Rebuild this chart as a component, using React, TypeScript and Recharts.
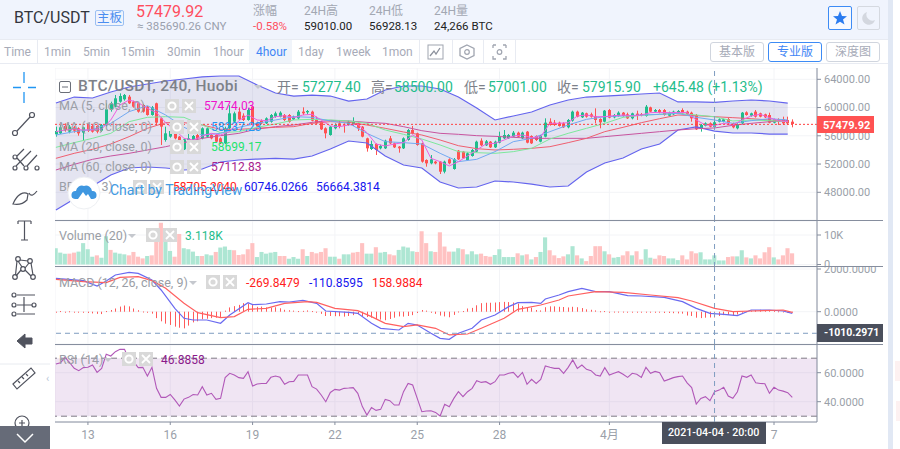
import React from "react";
import { Area, Bar, CartesianGrid, Cell, ComposedChart, Line, ReferenceArea, ReferenceLine, XAxis, YAxis } from "recharts";

// 4 hour candles, bar 0 = 11 Mar 20:00
const opens = [
  56210, 56350, 57390, 56585, 57200, 57060, 56445, 57530, 57390, 57390, 56725, 57530, 59650, 60125, 60830, 61165, 61540, 60830, 60600, 60360,
  60125, 58945, 60600, 58475, 55405, 55880, 56820, 55880, 54085, 54700, 55170, 56115, 55640, 55880, 56115, 56115, 55640, 54935, 57060, 58000,
  59420, 58850, 58240, 60125, 57765, 58140, 57765, 58000, 58710, 58710, 58945, 58945, 58330, 58475, 59420, 59320, 59420, 58240, 58000, 57060,
  56115, 57060, 57765, 57575, 57530, 57530, 57765, 57295, 55640, 54130, 54840, 54225, 54225, 55640, 54935, 54460, 54225, 55405, 56820, 56350,
  54935, 52575, 52100, 52340, 52340, 50920, 52670, 51300, 53895, 53755, 52575, 53140, 53755, 55310, 54650, 55170, 54365, 55030, 55640, 55640,
  55880, 56445, 55640, 56585, 55970, 55970, 55170, 55880, 58000, 57860, 57860, 57765, 57200, 58140, 59420, 58615, 59180, 59040, 58805, 58380,
  58000, 59650, 58615, 58805, 59275, 59040, 58475, 59135, 59085, 58805, 60030, 59420, 59650, 59650, 58850, 59040, 59275, 59650, 59420, 59275,
  58945, 57060, 57435, 57765, 57277, 58000, 58000, 58380, 57765, 57060, 57765, 59320, 58850, 59420, 59180, 59040, 58945, 57860, 58330, 58330,
  58240, 58000,
];
const closes = [
  56680, 57200, 56820, 57295, 56725, 56350, 57200, 56725, 56585, 56585, 57530, 59750, 60600, 61305, 61635, 61780, 60600, 60125, 59420, 59420,
  58945, 60030, 57860, 57295, 56350, 56680, 55640, 54225, 55500, 55640, 55970, 55640, 57060, 57060, 55640, 55170, 54935, 57060, 59180, 59180,
  58330, 58240, 59650, 57530, 57295, 57765, 58475, 58945, 59180, 59275, 58240, 58000, 58710, 59420, 59180, 59510, 58140, 57765, 56915, 56350,
  57295, 57530, 57390, 57480, 58000, 58000, 57060, 55880, 54225, 54840, 53990, 54555, 55310, 54935, 54365, 54225, 55640, 56820, 56350, 54700,
  52340, 52100, 52670, 52100, 50920, 52340, 52100, 52670, 52670, 52810, 53520, 53990, 55170, 54650, 55215, 54365, 55170, 55880, 56115, 56115,
  56445, 55880, 56445, 55030, 54935, 55405, 55970, 57860, 57530, 57530, 57390, 57200, 58240, 59420, 58710, 59275, 58710, 58710, 58240, 57905,
  59560, 58570, 58945, 59275, 58805, 58475, 59180, 58850, 58900, 60125, 59420, 59650, 59320, 58945, 59275, 59420, 59510, 59180, 59040, 58475,
  56915, 57530, 57765, 57295, 57916, 58330, 58330, 57765, 57200, 57625, 59275, 58945, 59180, 58710, 58710, 58615, 57860, 58330, 58000, 57765,
  57765, 57670,
];
const highs = [
  57295, 57530, 57765, 57530, 57390, 57200, 57295, 57670, 57530, 57530, 57670, 60600, 60830, 61780, 62010, 61920, 61780, 60975, 60740, 60500,
  60220, 60220, 60690, 58615, 57295, 56915, 56915, 55970, 55640, 56585, 56115, 56255, 57200, 57200, 56255, 56255, 55785, 57295, 60360, 59420,
  60030, 59180, 59890, 60220, 58000, 58330, 58615, 59085, 59420, 59465, 59085, 59085, 58850, 59650, 60030, 59650, 59560, 58710, 58100, 57200,
  57390, 57765, 58240, 57765, 58140, 58615, 57905, 57390, 55735, 55310, 54935, 54745, 55450, 55970, 55030, 54555, 55785, 56965, 57390, 56445,
  55030, 52670, 53280, 52430, 52430, 52480, 52810, 52855, 53990, 53850, 53660, 54130, 55310, 55640, 55405, 55265, 55310, 56585, 56820, 56255,
  56680, 56585, 56585, 56680, 56065, 56065, 56115, 58475, 58475, 58240, 58000, 57905, 58380, 59560, 59560, 59370, 59275, 59275, 59890, 58475,
  59650, 59795, 59085, 59465, 59370, 59275, 59275, 59560, 59230, 60360, 60125, 59795, 59795, 59795, 59420, 59560, 59650, 59890, 59560, 59420,
  59085, 57670, 57905, 57905, 58500, 58475, 58425, 58520, 57860, 57765, 59370, 59465, 59275, 59650, 59275, 59135, 59275, 58425, 58475, 58710,
  58710, 58330,
];
const lows = [
  55880, 56255, 56585, 56350, 56445, 56020, 55310, 56540, 56445, 56350, 56540, 57295, 59420, 60030, 60690, 60975, 60500, 59980, 59275, 59275,
  58850, 58850, 57530, 54700, 55170, 55735, 55500, 53520, 53990, 54555, 55030, 55500, 55500, 55735, 55500, 55030, 54840, 54840, 56915, 57860,
  58240, 58100, 58140, 57390, 57200, 57625, 57670, 57860, 58570, 58615, 58100, 57860, 58240, 58330, 58945, 59040, 58050, 57670, 56820, 55640,
  56020, 56915, 57060, 56445, 57435, 57390, 56680, 55785, 53755, 53990, 53280, 54085, 54130, 54840, 54270, 53610, 54130, 55310, 56210, 54600,
  52195, 51630, 51960, 51960, 50590, 50685, 51960, 51205, 52575, 52715, 52480, 53045, 53660, 54555, 54555, 54270, 54270, 54935, 55545, 55545,
  55785, 55785, 55545, 54935, 54840, 55265, 55075, 55785, 57435, 57390, 57295, 57105, 57060, 58000, 58615, 58520, 58570, 58570, 57765, 57060,
  57905, 58475, 58475, 58710, 58710, 58380, 58330, 58240, 58760, 58710, 59320, 59320, 59180, 58850, 58760, 58945, 59180, 59040, 58945, 58000,
  56820, 56585, 57340, 57200, 57001, 57905, 57905, 57625, 57060, 56915, 57670, 58850, 58710, 58570, 58615, 58520, 57765, 57765, 57530, 57530,
  57530, 57200,
];

// bars the slower lines were read at
const lineBars = [
  0, 4, 8, 12, 16, 20, 24, 28, 32, 36, 40, 44, 48, 52, 56, 60, 64, 68, 72, 76, 80, 84, 88, 92, 96, 100, 104, 108, 112, 116, 120, 124, 128, 132, 136,
  140, 144, 148, 152, 156, 160,
];
const ma10 = [
  56115, 56585, 56915, 57765, 59420, 60265, 58945, 57200, 56115, 56350, 57200, 57765, 58240, 58710, 58615, 58100, 57765, 56350, 55170, 55030, 54840,
  53520, 52340, 52670, 53755, 55170, 55640, 56585, 57530, 58330, 58710, 58805, 58945, 59040, 59180, 58615, 58237, 57765, 58140, 58425, 58240,
];
const ma20 = [
  54365, 55030, 55640, 56350, 58000, 58615, 58710, 58615, 57530, 56445, 56585, 57200, 57670, 58240, 58330, 58240, 58100, 57765, 56820, 56210, 55545,
  54700, 53755, 53610, 53520, 53755, 54225, 55545, 56350, 57060, 57765, 58615, 58900, 59040, 59180, 58945, 58699, 58100, 58240, 58140, 58000,
];
const ma60 = [
  51160, 51960, 52670, 53140, 53520, 53990, 54460, 55030, 55640, 56020, 56350, 56965, 57295, 57530, 57905, 58190, 58100, 57905, 57765, 57295, 56725,
  56350, 56210, 56020, 55925, 55785, 55640, 55640, 55640, 55640, 55880, 56115, 56350, 56585, 56820, 57000, 57113, 57480, 57765, 58000, 58140,
];
const bbBasis = [
  52810, 53520, 54085, 54840, 55880, 57060, 57860, 57860, 57530, 56915, 56915, 57060, 57200, 57295, 57765, 58000, 57905, 57530, 57060, 56540, 56115,
  55405, 54600, 54180, 53990, 54085, 54225, 54460, 55030, 55640, 56585, 57200, 57860, 58425, 58945, 58850, 58705, 58570, 58425, 58240, 58000,
];
const bbUpper = [
  60640, 61490, 61350, 62200, 62910, 63330, 63760, 64040, 64330, 64470, 64470, 63190, 62060, 61630, 61770, 61630, 60920, 61210, 62490, 63050, 63050,
  62630, 61490, 59940, 58240, 58800, 59370, 60360, 61070, 61490, 61630, 61770, 61920, 62060, 60790, 60790, 60746, 60930, 61070, 60930, 60640,
];
const bbLower = [
  45490, 47050, 48890, 50450, 51440, 51580, 51440, 51160, 51300, 52290, 52570, 52710, 52790, 52710, 53140, 54130, 55260, 54980, 53140, 51860, 51440,
  49460, 48610, 48750, 49600, 49460, 49170, 48750, 48890, 50870, 52150, 52860, 54130, 54840, 56820, 57250, 56664, 56400, 56400, 56250, 56250,
];

// MA5 follows the price, read every second bar
const ma5Bars = [
  0, 2, 4, 6, 8, 10, 12, 14, 16, 18, 20, 22, 24, 26, 28, 30, 32, 34, 36, 38, 40, 42, 44, 46, 48, 50, 52, 54, 56, 58, 60, 62, 64, 66, 68, 70, 72, 74, 76,
  78, 80, 82, 84, 86, 88, 90, 92, 94, 96, 98, 100, 102, 104, 106, 108, 110, 112, 114, 116, 118, 120, 122, 124, 126, 128, 130, 132, 134, 136, 138, 140,
  142, 144, 146, 148, 150, 152, 154, 156, 158, 160,
];
const ma5 = [
  56585, 56820, 56965, 56820, 56820, 56965, 58240, 60360, 61070, 60690, 59890, 59275, 57860, 56820, 55640, 55405, 55970, 56350, 56115, 56585, 58140,
  58945, 58240, 58140, 58710, 58850, 58570, 58945, 59040, 58240, 57390, 57295, 57530, 57625, 56445, 54840, 54555, 54840, 55030, 56115, 55405, 52810,
  52340, 51725, 52340, 53140, 53990, 54840, 54935, 55405, 55970, 56115, 55735, 55880, 57765, 57765, 57860, 58805, 58945, 58710, 58710, 58850, 58945,
  58805, 58945, 59275, 59320, 59275, 59320, 59275, 58240, 57530, 57474, 57765, 57530, 58240, 58805, 59040, 58570, 58140, 58000,
];

const volumes = [
  5520, 4025, 3680, 3680, 4025, 4370, 7245, 5175, 2645, 3105, 2300, 9545, 4945, 4025, 3680, 3450, 3105, 4255, 2645, 2070, 2875, 3105, 10925, 14145, 8050,
  4600, 2645, 10350, 5520, 5175, 4370, 2875, 2875, 3450, 3105, 4255, 5750, 6095, 4945, 4830, 3220, 3450, 5175, 7245, 2530, 4255, 3680, 4025, 4255, 2875,
  2875, 1955, 2530, 1955, 5175, 2875, 4255, 3795, 4255, 5520, 2645, 2645, 1955, 3450, 3450, 4025, 4255, 7245, 3680, 3680, 5865, 4025, 4255, 3450, 3105,
  4945, 6095, 5750, 4485, 4255, 11270, 7245, 4485, 4255, 10925, 6095, 4370, 4370, 5520, 5175, 3450, 4485, 3450, 3680, 2875, 2645, 3220, 5175, 2530, 2530,
  2530, 3795, 3105, 3450, 1725, 2530, 4255, 9200, 4830, 3105, 2185, 2760, 3450, 6210, 3105, 2070, 1150, 2875, 6210, 6210, 4485, 3450, 2300, 2530, 3105,
  4485, 3105, 4485, 1725, 5175, 2300, 1955, 3105, 2875, 2070, 2070, 1495, 3105, 1725, 4485, 3795, 4140, 1725, 1725, 3105, 1380, 1380, 2530, 2760, 2760,
  4830, 2415, 2070, 3105, 2070, 4140, 5865, 2415, 1725, 3105, 5520, 3795,
];
const volumeUp = [
  1, 1, 1, 0, 0, 1, 1, 1, 1, 0, 1, 1, 0, 1, 1, 1, 0, 0, 0, 0, 1, 0, 0, 0, 1, 1, 0, 0, 1, 1, 1, 1, 0, 1, 1, 0, 1, 1, 1, 0, 0, 0, 0, 0, 1, 1, 1, 1, 1, 0, 0, 1,
  1, 1, 0, 1, 0, 0, 0, 0, 1, 1, 0, 1, 1, 0, 0, 0, 1, 1, 0, 1, 1, 0, 0, 1, 1, 1, 1, 0, 0, 0, 1, 0, 0, 0, 0, 1, 1, 0, 1, 1, 1, 0, 0, 0, 1, 1, 1, 1, 1, 0, 1, 0,
  1, 0, 1, 1, 0, 0, 0, 0, 1, 1, 0, 1, 0, 0, 0, 0, 1, 0, 1, 1, 0, 0, 1, 0, 0, 1, 1, 0, 0, 0, 1, 1, 1, 0, 0, 0, 0, 1, 1, 1, 1, 1, 1, 0, 0, 1, 1, 0, 1, 0, 0, 0,
  0, 1, 0, 0, 0, 0,
];

const macdBars = [
  0, 6, 9, 11, 13, 16, 18, 21, 23, 26, 28, 30, 33, 36, 38, 42, 43, 46, 49, 51, 54, 57, 59, 64, 66, 69, 71, 75, 77, 79, 82, 84, 86, 88, 91, 93, 96, 99, 101,
  104, 106, 107, 110, 112, 115, 118, 121, 125, 128, 133, 137, 140, 143, 146, 149, 152, 156, 159, 161,
];
const macdLine = [
  1563, 1454, 1204, 1438, 1719, 1844, 1797, 1485, 1017, 158, -310, -388, -388, -544, -154, 424, 330, 361, 471, 455, 533, 393, 33, -29, -76, -544, -778, -856,
  -544, -622, -1012, -1247, -1293, -1012, -778, -388, -154, 237, 424, 439, 393, 595, 783, 939, 1095, 939, 939, 752, 736, 674, 471, 158, -76, -122, -185, 80,
  80, 33, -76,
];
const signalBars = [
  0, 6, 11, 14, 18, 21, 24, 28, 31, 36, 39, 42, 46, 50, 55, 57, 61, 66, 69, 72, 76, 79, 83, 86, 90, 93, 98, 101, 106, 110, 112, 118, 124, 130, 136, 139, 144,
  148, 152, 159, 161,
];
const signalLine = [
  1516, 1407, 1360, 1610, 1641, 1454, 1095, 393, -44, -279, -232, 112, 158, 393, 471, 439, 158, 49, -232, -544, -700, -622, -778, -1090, -1044, -778, -310,
  112, 315, 549, 736, 939, 908, 783, 658, 502, 159, 2, 33, 80, -29,
];
const macdHist = [
  -30, 30, -30, 20, -20, -40, -50, -60, -80, -100, -110, 30, 80, 150, 240, 290, 250, 150, 70, 10, -50, -90, -300, -450, -560, -620, -700, -750, -780, -650,
  -500, -450, -350, -330, -300, -280, -250, 50, 200, 260, 320, 400, 380, 310, 230, 240, 200, 190, 210, 160, 90, 70, 50, 30, 40, 60, 30, -20, -100, -200, -200,
  -210, -210, -230, -200, -160, -120, -200, -250, -280, -340, -370, -400, -340, -280, -220, -230, -200, -160, -60, 80, 50, -50, -100, -180, -220, -260, -150,
  10, 30, 150, 180, 300, 400, 420, 420, 430, 450, 460, 450, 430, 380, 260, 190, 190, 80, 60, 210, 250, 250, 230, 220, 200, 230, 210, 170, 110, 90, 60, 20, 30,
  0, 5, 5, 5, -10, -15, -20, -30, -30, -40, -50, -40, -60, -60, -70, -80, -90, -180, -200, -280, -300, -280, -270, -270, -200, -160, -150, -180, -130, -40, 30,
  50, 80, 90, 80, 60, 40, 20, 10, 5, -5,
];

const rsi = [
  66, 66.9, 70.6, 66.9, 63, 61.4, 63.5, 63.7, 65.3, 60.2, 63, 72.7, 71.5, 74.5, 76.1, 76.1, 68.8, 67.6, 63.5, 63.7, 57.7, 63.7, 49.2, 43, 43, 45, 41.2, 37,
  41.8, 43, 45, 44.6, 50.4, 44.6, 45.8, 41.6, 42.3, 56.6, 59.6, 58.4, 56.6, 56.1, 60.7, 50.8, 52.2, 52.6, 52.6, 56.8, 57.7, 56.8, 52, 53.8, 54, 58.4, 58.4,
  58.4, 50.4, 48.7, 44.6, 40, 46.4, 48.5, 48, 49.2, 49.4, 49.7, 45.8, 36.6, 30.8, 36, 34, 34.7, 41.6, 40.7, 37.7, 37.7, 46.9, 52.6, 51.5, 42.3, 33.1, 33.6,
  33.8, 32.6, 30.1, 38.2, 36.5, 42.3, 46.9, 43.5, 46.9, 49.2, 54.5, 53.3, 53.8, 52, 53.8, 58.4, 58.4, 59.6, 60.2, 56.8, 60.2, 52, 55.4, 52.6, 55.4, 64.6, 63.7,
  63, 63, 59.6, 63.7, 68.8, 63, 65.3, 62.3, 61.4, 58.4, 57.7, 63.5, 58.4, 59.6, 60.7, 58.9, 56.8, 59.6, 58.9, 56.8, 63.7, 59.6, 60.9, 60, 54.3, 55.4, 56.6,
  57.3, 57.7, 53, 49.7, 38.4, 42.3, 43.5, 40.7, 46.9, 48, 49.9, 43.9, 42.3, 46.9, 57.7, 56.8, 58.4, 53.1, 52.6, 52.4, 45.8, 49.9, 48, 47.3, 46.2, 43,
];

const dayBars = [7, 25, 43, 61, 79, 97, 121, 157];
const dayLabels = ["13", "16", "19", "22", "25", "28", "4月", "7"];
const priceTicks = [48000, 52000, 56000, 60000, 64000];
const volumeTicks = [0, 10000];
const macdTicks = [0, 2000];
const rsiTicks = [40, 60];
const crosshairBar = 144;
const crosshairMacd = -1010.2971;
const lastPriceLine = 57620; // drawn level of the 57479.92 marker

const UP = "#1fbd8c";
const DOWN = "#ff5252";
const AXIS = "#868e9e";
const GRID = "#f3f4f7";
const TICK_TEXT = "#9a9fa9";
const FONT = "Roboto, 'Noto Sans CJK SC', sans-serif";
const xDomain = [-0.2, 166.4];

const rows: any[] = opens.map((open, i) => ({
  bar: i,
  open,
  close: closes[i],
  high: highs[i],
  low: lows[i],
  range: [lows[i], highs[i]],
  volume: volumes[i],
  hist: macdHist[i],
  rsi: rsi[i],
}));
lineBars.forEach((b, k) => {
  rows[b].ma10 = ma10[k];
  rows[b].ma20 = ma20[k];
  rows[b].ma60 = ma60[k];
  rows[b].basis = bbBasis[k];
  rows[b].upper = bbUpper[k];
  rows[b].lower = bbLower[k];
  rows[b].band = [bbLower[k], bbUpper[k]];
});
ma5Bars.forEach((b, k) => (rows[b].ma5 = ma5[k]));
macdBars.forEach((b, k) => (rows[b].macd = macdLine[k]));
signalBars.forEach((b, k) => (rows[b].signal = signalLine[k]));

function Candle(props: any) {
  const { x, y, height, payload } = props;
  const h = Math.abs(height);
  const unit = h / (payload.high - payload.low || 1);
  const yOpen = y + (payload.high - payload.open) * unit;
  const yClose = y + (payload.high - payload.close) * unit;
  const up = payload.close >= payload.open;
  const color = up ? UP : DOWN;
  const left = Math.round(x);
  return (
    <g>
      <line x1={left + 1.5} x2={left + 1.5} y1={y} y2={y + h} stroke={color} strokeWidth={1} />
      <rect x={left} width={3} y={Math.min(yOpen, yClose)} height={Math.max(Math.abs(yClose - yOpen), 1)} fill={color} />
    </g>
  );
}

// macd histogram stays a crisp 1px stem
function HistStem(props: any) {
  const { x, y, height, fill } = props;
  return <rect x={Math.round(x)} width={1} y={Math.min(y, y + height)} height={Math.max(Math.abs(height), 1)} fill={fill} />;
}

function Txt({ x, y, size = 12, color = "#333", weight = 400, family = FONT, children, spacing }: any) {
  return (
    <div
      style={{
        position: "absolute",
        left: x,
        top: y,
        transform: "translateY(-50%)",
        fontSize: size,
        color,
        fontWeight: weight,
        fontFamily: family,
        whiteSpace: "nowrap",
        lineHeight: 1,
        letterSpacing: spacing,
      }}
    >
      {children}
    </div>
  );
}

function Box({ x, y, w, h, style }: any) {
  return <div style={{ position: "absolute", left: x, top: y, width: w, height: h, boxSizing: "border-box", ...style }} />;
}

function LegendButtons({ x, y }: any) {
  return (
    <svg style={{ position: "absolute", left: x, top: y }} width={32} height={15}>
      <rect x={0} y={0} width={14} height={14} fill="#d9d9d9" />
      <circle cx={7} cy={7} r={3.6} fill="none" stroke="#fff" strokeWidth={2} />
      <rect x={17} y={0} width={14} height={14} fill="#d9d9d9" />
      <path d="M20 3 L28 11 M28 3 L20 11" stroke="#fff" strokeWidth={1.8} />
    </svg>
  );
}

function Caret({ x, y }: any) {
  return (
    <svg style={{ position: "absolute", left: x, top: y }} width={9} height={6}>
      <path d="M0 0 L8 0 L4 4 Z" fill="#c5c8ce" />
    </svg>
  );
}

function XTicks() {
  return (
    <XAxis
      dataKey="bar"
      type="number"
      domain={xDomain}
      allowDataOverflow
      ticks={dayBars}
      interval={0}
      hide
    />
  );
}

const yTick = { fill: TICK_TEXT, fontSize: 11, fontFamily: FONT };

function SidebarIcons() {
  const s = { fill: "none", stroke: "#50535e", strokeWidth: 1.2 };
  return (
    <svg style={{ position: "absolute", left: 0, top: 64 }} width={54} height={385}>
      <path d="M24 -0 V11 M24 20 V31 M13 15.500 H21 M28 15.500 H36" stroke="#2196f3" strokeWidth={1.3} fill="none" transform="translate(0,8)" />
      <g {...s}>
        <circle cx={15} cy={69} r={2.5} />
        <circle cx={32} cy={51} r={2.5} />
        <path d="M17 67 L30 53" />
        <circle cx={15} cy={93} r={2} />
        <circle cx={15} cy={104} r={2} />
        <circle cx={26} cy={104} r={2} />
        <circle cx={37} cy={104} r={2} />
        <path d="M17 92 L24 85 M16 102 L31 87 M27 102 L37 91 M17 94 L24 102" />
        <path d="M13 140 C17 130 24 127 28 130 L27 136 C23 140 18 141 13 140 Z M29 129 C31 133 34 131 37 127" />
        <path d="M18 157 H31 M24.500 157 V176 M21 176 H28 M18 157 V160 M31 157 V160" />
        <circle cx={18} cy={195} r={2.3} />
        <circle cx={30} cy={197} r={2.3} />
        <circle cx={15} cy={213} r={2.3} />
        <circle cx={33} cy={213} r={2.3} />
        <circle cx={23} cy={205} r={2.3} />
        <path d="M17 197 L15.500 211 M20 196 L28 197 M18 197 L22 203 M25 204 L29 199 M31 199 L33 211 M21 206 L16 212 M25 206 L31 212" />
        <circle cx={14} cy={231} r={2} />
        <circle cx={14} cy={241} r={2} />
        <circle cx={14} cy={250} r={2} />
        <circle cx={34} cy={241} r={2} />
        <path d="M17 231 H35 M17 241 H32 M17 250 H35 M24 233 V248" />
      </g>
      <path d="M17 277 L25 270 V274 H32 V280 H25 V284 Z" fill="#50535e" stroke="#50535e" />
      <line x1={0} x2={50} y1={300} y2={300} stroke="#e8ebf0" />
      <path d="M13 320 L31 304 L35 309 L17 325 Z M18 317 L20 319 M22 313 L24 315 M26 310 L28 312" {...s} />
      <circle cx={22} cy={359} r={7} {...s} />
      <path d="M19 359 H25 M22 356 V362 M27 364 L32 370" {...s} />
    </svg>
  );
}

export default function App() {
  return (
    <div style={{ position: "fixed", left: 0, top: 0, width: 900, height: 449, overflow: "hidden", background: "#fff", fontFamily: FONT }}>
      {/* header */}
      <Box x={0} y={0} w={888} h={39} style={{ background: "#f0f4fd" }} />
      <Box x={888} y={0} w={5} h={449} style={{ background: "#e1e8f4" }} />
      <Box x={895} y={361} w={5} h={20} style={{ background: "#fdf1f1" }} />
      <Box x={896} y={401} w={4} h={20} style={{ background: "#fdf1f1" }} />
      <Txt x={14} y={18} size={16} color="#33363d">BTC/USDT</Txt>
      <Box x={95} y={10} w={29} h={16} style={{ border: "1px solid #9cc0f2", borderRadius: 2 }} />
      <Txt x={97} y={18} size={12.5} color="#4b8df0">主板</Txt>
      <Txt x={136} y={12} size={16} color="#ff4d5e">57479.92</Txt>
      <Txt x={137} y={27} size={11.500} color="#9aa0ad">≈ 385690.26 CNY</Txt>
      <Txt x={253} y={11} size={12} color="#a3a8b3">涨幅</Txt>
      <Txt x={253} y={27} size={11.500} color="#ff4d5e">-0.58%</Txt>
      <Txt x={304} y={11} size={12} color="#a3a8b3">24H高</Txt>
      <Txt x={304} y={27} size={11.500} color="#222">59010.00</Txt>
      <Txt x={369} y={11} size={12} color="#a3a8b3">24H低</Txt>
      <Txt x={369} y={27} size={11.500} color="#222">56928.13</Txt>
      <Txt x={434} y={11} size={12} color="#a3a8b3">24H量</Txt>
      <Txt x={434} y={27} size={11.500} color="#222">24,266 BTC</Txt>
      <Box x={828} y={6} w={24} h={24} style={{ border: "1px solid #3d8bf5", borderRadius: 2, background: "#f6f9ff" }} />
      <svg style={{ position: "absolute", left: 833, top: 11 }} width={14} height={14}>
        <path d="M7 0 L9 5 L14 5.300 L10 8.600 L11.500 13.500 L7 10.700 L2.500 13.500 L4 8.600 L0 5.300 L5 5 Z" fill="#2b7cf0" />
      </svg>
      <Box x={857} y={6} w={23} h={24} style={{ border: "1px solid #d5d9e0", borderRadius: 2 }} />
      <svg style={{ position: "absolute", left: 861, top: 11 }} width={15} height={14}>
        <path d="M6 1 A6.500 6.500 0 1 0 14 9 A6 6 0 0 1 6 1 Z" fill="#d3d7df" />
      </svg>

      {/* toolbar */}
      <Box x={0} y={39} w={888} h={1} style={{ background: "#e8ebf2" }} />
      <Box x={0} y={63} w={888} h={1} style={{ background: "#e8ebf2" }} />
      <Box x={249} y={40} w={43} h={23} style={{ background: "#f0f4fa" }} />
      {[37, 419, 452, 483, 515].map((x) => (
        <Box key={x} x={x} y={40} w={1} h={23} style={{ background: "#e8ebf2" }} />
      ))}
      {[
        ["Time", 4],
        ["1min", 44],
        ["5min", 83],
        ["15min", 121],
        ["30min", 167],
        ["1hour", 213],
        ["1day", 298],
        ["1week", 336],
        ["1mon", 382],
      ].map(([label, x]) => (
        <Txt key={label} x={x} y={52} size={12} color="#a7abb8">{label}</Txt>
      ))}
      <Txt x={256} y={52} size={12} color="#3f86f5">4hour</Txt>
      <svg style={{ position: "absolute", left: 427, top: 44 }} width={90} height={16}>
        <rect x={1} y={1} width={15} height={14} fill="none" stroke="#a0a5b0" />
        <path d="M3 12 L7 7 L9 10 L13 4" fill="none" stroke="#8c919c" strokeWidth={1.3} />
        <path d="M40 1 L47 4.500 V11.500 L40 15 L33 11.500 V4.500 Z" fill="none" stroke="#a0a5b0" strokeWidth={1.3} />
        <circle cx={40} cy={8} r={2.300} fill="none" stroke="#a0a5b0" strokeWidth={1.2} />
        <path d="M66 1 H69 M76 1 H79 M79 1 V4 M79 12 V15 H76 M69 15 H66 V12 M66 4 V1" fill="none" stroke="#a0a5b0" strokeWidth={1.3} />
        <circle cx={72.500} cy={8} r={2.300} fill="none" stroke="#a0a5b0" strokeWidth={1.2} />
      </svg>
      <Box x={710} y={42} w={54} h={20} style={{ border: "1px solid #d0d5de", borderRadius: 3 }} />
      <Txt x={719} y={52} size={12} color="#a7abb8">基本版</Txt>
      <Box x={768} y={42} w={54} h={20} style={{ border: "1px solid #3d8bf5", borderRadius: 3 }} />
      <Txt x={777} y={52} size={12} color="#3f86f5">专业版</Txt>
      <Box x={826} y={42} w={54} h={20} style={{ border: "1px solid #d0d5de", borderRadius: 3 }} />
      <Txt x={835} y={52} size={12} color="#a7abb8">深度图</Txt>

      <SidebarIcons />

      {/* price pane */}
      <div style={{ position: "absolute", left: 55, top: 68 }}>
        <ComposedChart width={828} height={152} data={rows} margin={{ top: 0, right: 0, bottom: 0, left: 0 }} barGap={0}>
          <CartesianGrid stroke={GRID} />
          <XTicks />
          <YAxis
            orientation="right"
            width={66}
            domain={[44078, 65600]}
            allowDataOverflow
            ticks={priceTicks}
            interval={0}
            stroke={AXIS}
            tickSize={4}
            tickMargin={3}
            tick={yTick}
            tickFormatter={(v) => v.toFixed(2)}
          />
          <Area dataKey="band" connectNulls stroke="none" fill="#7a7ab8" fillOpacity={0.2} isAnimationActive={false} />
          <Line dataKey="upper" connectNulls stroke="#6464ee" strokeWidth={1.2} dot={false} isAnimationActive={false} />
          <Line dataKey="lower" connectNulls stroke="#6464ee" strokeWidth={1.2} dot={false} isAnimationActive={false} />
          <Line dataKey="ma60" connectNulls stroke="#c8549f" strokeWidth={1} dot={false} isAnimationActive={false} />
          <Line dataKey="basis" connectNulls stroke="#ef5f70" strokeWidth={1} dot={false} isAnimationActive={false} />
          <Line dataKey="ma20" connectNulls stroke="#7de89c" strokeWidth={1} dot={false} isAnimationActive={false} />
          <Line dataKey="ma10" connectNulls stroke="#72a9f2" strokeWidth={1} dot={false} isAnimationActive={false} />
          <Bar dataKey="range" barSize={3} shape={<Candle />} isAnimationActive={false} />
          <Line dataKey="ma5" connectNulls stroke="#ee5fe0" strokeWidth={1} dot={false} isAnimationActive={false} />
          <ReferenceLine y={lastPriceLine} stroke="#ff4040" strokeDasharray="2 2" />
          <ReferenceLine x={crosshairBar} stroke="#7f9cc0" strokeDasharray="5 4" />
        </ComposedChart>
      </div>

      {/* volume pane */}
      <div style={{ position: "absolute", left: 55, top: 221 }}>
        <ComposedChart width={828} height={46} data={rows} margin={{ top: 0, right: 0, bottom: 0, left: 0 }}>
          <CartesianGrid stroke={GRID} />
          <XTicks />
          <YAxis
            orientation="right"
            width={66}
            domain={[-847, 14746]}
            allowDataOverflow
            ticks={volumeTicks}
            interval={0}
            stroke={AXIS}
            tickSize={4}
            tickMargin={3}
            tick={yTick}
            tickFormatter={(v) => (v ? v / 1000 + "K" : "0")}
          />
          <Bar dataKey="volume" barSize={4.6} isAnimationActive={false}>
            {rows.map((r) => (
              <Cell key={r.bar} fill={volumeUp[r.bar] ? "#ade6d3" : "#ffc2c2"} />
            ))}
          </Bar>
          <ReferenceLine x={crosshairBar} stroke="#7f9cc0" strokeDasharray="5 4" />
        </ComposedChart>
      </div>

      {/* macd pane */}
      <div style={{ position: "absolute", left: 55, top: 267 }}>
        <ComposedChart width={828} height={77} data={rows} margin={{ top: 0, right: 0, bottom: 0, left: 0 }}>
          <CartesianGrid stroke={GRID} />
          <XTicks />
          <YAxis
            orientation="right"
            width={66}
            domain={[-1513, 2094]}
            allowDataOverflow
            ticks={macdTicks}
            interval={0}
            stroke={AXIS}
            tickSize={4}
            tickMargin={3}
            tick={yTick}
            tickFormatter={(v) => v.toFixed(4)}
          />
          <Bar dataKey="hist" barSize={1} fill="#ff5a5a" shape={<HistStem />} isAnimationActive={false} />
          <Line dataKey="macd" connectNulls stroke="#6a6af0" strokeWidth={1.2} dot={false} isAnimationActive={false} />
          <Line dataKey="signal" connectNulls stroke="#ff6060" strokeWidth={1.2} dot={false} isAnimationActive={false} />
          <ReferenceLine y={crosshairMacd} stroke="#7f9cc0" strokeDasharray="5 4" />
          <ReferenceLine x={crosshairBar} stroke="#7f9cc0" strokeDasharray="5 4" />
        </ComposedChart>
      </div>

      {/* rsi pane */}
      <div style={{ position: "absolute", left: 55, top: 345 }}>
        <ComposedChart width={828} height={99} data={rows} margin={{ top: 0, right: 0, bottom: 0, left: 0 }}>
          <CartesianGrid stroke={GRID} />
          <XAxis
            dataKey="bar"
            type="number"
            domain={xDomain}
            allowDataOverflow
            ticks={dayBars}
            interval={0}
            height={22}
            stroke={AXIS}
            tickSize={3}
            tickMargin={5}
            tick={{ fill: TICK_TEXT, fontSize: 12, fontFamily: FONT }}
            tickFormatter={(v) => dayLabels[dayBars.indexOf(v)]}
          />
          <YAxis
            orientation="right"
            width={66}
            domain={[26, 79.1]}
            allowDataOverflow
            ticks={rsiTicks}
            interval={0}
            stroke={AXIS}
            tickSize={4}
            tickMargin={3}
            tick={yTick}
            tickFormatter={(v) => v.toFixed(4)}
          />
          <ReferenceArea y1={30} y2={70} fill="#9c4fb0" fillOpacity={0.15} stroke="none" />
          <ReferenceLine y={70} stroke="#7f7a86" strokeDasharray="6 4" />
          <ReferenceLine y={30} stroke="#7f7a86" strokeDasharray="6 4" />
          <Line dataKey="rsi" stroke="#b158b8" strokeWidth={1.1} dot={false} isAnimationActive={false} />
          <ReferenceLine x={crosshairBar} stroke="#7f9cc0" strokeDasharray="5 4" />
        </ComposedChart>
      </div>

      {/* pane separators */}
      <Box x={55} y={220} w={828} h={1} style={{ background: AXIS }} />
      <Box x={55} y={266} w={828} h={1} style={{ background: AXIS }} />
      <Box x={55} y={344} w={828} h={1} style={{ background: AXIS }} />

      {/* legends */}
      <svg style={{ position: "absolute", left: 59, top: 81 }} width={13} height={13}>
        <rect x={0.5} y={0.5} width={11} height={11} rx={1.5} fill="none" stroke="#6b6f78" />
        <path d="M3 6 H9" stroke="#6b6f78" />
      </svg>
      <Txt x={78} y={87} size={15.500} weight={500} color="#7d8189" spacing={0.3}>BTC/USDT, 240, Huobi</Txt>
      <Caret x={254} y={85} />
      <Txt x={277} y={87} size={14} color="#7d8189">开=</Txt>
      <Txt x={302} y={87} size={14} color={UP}>57277.40</Txt>
      <Txt x={371} y={87} size={14} color="#7d8189">高=</Txt>
      <Txt x={394} y={87} size={14} color={UP}>58500.00</Txt>
      <Txt x={464} y={87} size={14} color="#7d8189">低=</Txt>
      <Txt x={488} y={87} size={14} color={UP}>57001.00</Txt>
      <Txt x={557} y={87} size={14} color="#7d8189">收=</Txt>
      <Txt x={582} y={87} size={14} color={UP}>57915.90</Txt>
      <Txt x={653} y={87} size={14} color={UP}>+645.48 (+1.13%)</Txt>

      <Txt x={59} y={106} size={12.500} color="#9a9ea6">MA (5, close, 0)</Txt>
      <LegendButtons x={165} y={99} />
      <Txt x={204} y={106} size={12} color="#f012cc">57474.03</Txt>
      <Txt x={59} y={127} size={12.500} color="#9a9ea6">MA (10, close, 0)</Txt>
      <LegendButtons x={170} y={120} />
      <Txt x={211} y={127} size={12} color="#2196f3">58237.23</Txt>
      <Txt x={59} y={147} size={12.500} color="#9a9ea6">MA (20, close, 0)</Txt>
      <LegendButtons x={170} y={140} />
      <Txt x={211} y={147} size={12} color="#1fe36e">58699.17</Txt>
      <Txt x={59} y={167} size={12.500} color="#9a9ea6">MA (60, close, 0)</Txt>
      <LegendButtons x={170} y={160} />
      <Txt x={211} y={167} size={12} color="#a8228c">57112.83</Txt>
      <Txt x={59} y={187} size={12.500} color="#9a9ea6">BB (20, 3)</Txt>
      <LegendButtons x={133} y={180} />
      <Txt x={173} y={187} size={12} color="#ff2020">58705.2040</Txt>
      <Txt x={244} y={187} size={12} color="#1515ee">60746.0266</Txt>
      <Txt x={316} y={187} size={12} color="#1515ee">56664.3814</Txt>

      <svg style={{ position: "absolute", left: 67, top: 176 }} width={34} height={34}>
        <circle cx={17} cy={17} r={16} fill="#fff" stroke="#eef0f3" />
        <path d="M8 23 A4 4 0 0 1 9 15 A6 6 0 0 1 17 10 A6 6 0 0 1 25 15 A4 4 0 0 1 26 23 Z" fill="#3f97e0" />
        <path d="M11 23 L16 16 L19 20 L21 18 L24 23 Z" fill="#fff" />
      </svg>
      <Txt x={110} y={190} size={14} color="#3f9ae2">Chart by TradingView</Txt>

      <Txt x={59} y={236} size={12.500} color="#9a9ea6">Volume (20)</Txt>
      <Caret x={128} y={234} />
      <LegendButtons x={146} y={228} />
      <Txt x={185} y={236} size={12} color={UP}>3.118K</Txt>

      <Txt x={59} y={283} size={12.500} color="#9a9ea6">MACD (12, 26, close, 9)</Txt>
      <Caret x={189} y={281} />
      <LegendButtons x={206} y={275} />
      <Txt x={246} y={283} size={12} color="#ff2020">-269.8479</Txt>
      <Txt x={309} y={283} size={12} color="#1515ee">-110.8595</Txt>
      <Txt x={372} y={283} size={12} color="#ff2020">158.9884</Txt>

      <Txt x={59} y={360} size={12.500} color="#9a9ea6">RSI (14)</Txt>
      <Caret x={104} y={358} />
      <LegendButtons x={122} y={352} />
      <Txt x={161} y={360} size={12} color="#8b1a8b">46.8858</Txt>

      {/* axis markers */}
      <Box x={817} y={116} w={57} h={17} style={{ background: "#ff5252" }} />
      <Txt x={823} y={124.500} size={11} weight={700} color="#fff">57479.92</Txt>
      <Box x={817} y={324} w={66} h={18} style={{ background: "#4a4f5c" }} />
      <Txt x={824} y={333} size={10.500} weight={700} color="#fff">-1010.2971</Txt>
      <Box x={662} y={422} w={104} h={22} style={{ background: "#4a4f5c" }} />
      <Txt x={668} y={433} size={10.700} weight={500} color="#fff">2021-04-04 · 20:00</Txt>

      {/* bottom of sidebar */}
      <Box x={0} y={426} w={50} h={23} style={{ background: "#666b78" }} />
      <svg style={{ position: "absolute", left: 15, top: 433 }} width={20} height={11}>
        <path d="M2 1 L10 9 L18 1" fill="none" stroke="#fff" strokeWidth={1.5} />
      </svg>
      <Txt x={46} y={378} size={11} color="#b9c6d8">‹</Txt>
    </div>
  );
}
